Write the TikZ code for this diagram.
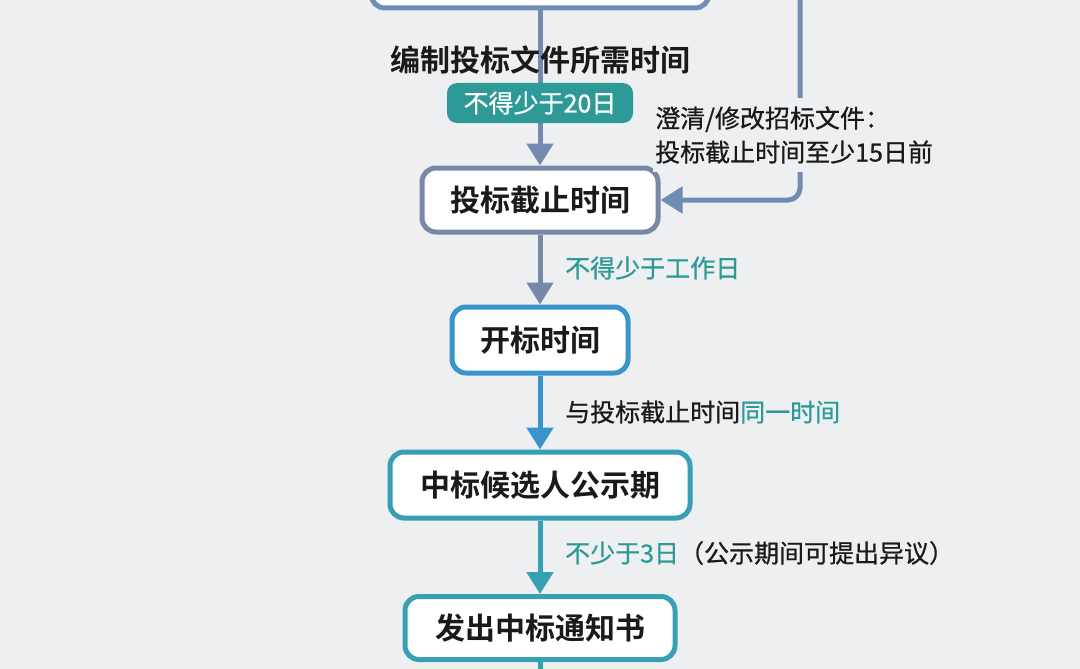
\documentclass[tikz,border=0pt]{standalone}
\usepackage{fontspec}
\setmainfont{Noto Sans CJK SC}[BoldFont={Noto Sans CJK SC Bold}]
\newfontfamily\medfont{Noto Sans CJK SC}[FakeBold=0.7]
\usetikzlibrary{arrows.meta}
\definecolor{bg}{HTML}{EDEFF1}
\definecolor{cgray}{HTML}{7A88A8}
\definecolor{ctop}{HTML}{6F8DB6}
\definecolor{cblue}{HTML}{3A94CC}
\definecolor{cteal}{HTML}{37A0B2}
\definecolor{ctxt}{HTML}{2E9A98}
\definecolor{cbadge}{HTML}{2E9A98}
\definecolor{dark}{HTML}{1A1A1A}
\tikzset{
  box/.style={draw, fill=white, line width=5pt, rounded corners=14pt, inner sep=0pt,
    font=\bfseries\fontsize{30}{36}\selectfont, text=dark},
  conn/.style={line width=5pt, -{Triangle[width=26pt,length=22pt]}},
  plain/.style={line width=5pt},
  lbl/.style={font=\medfont\fontsize{25}{34}\selectfont, text=dark, inner sep=0pt, anchor=west},
}
\begin{document}
\begin{tikzpicture}[x=1pt,y=-1pt]
\useasboundingbox (0,0) rectangle (1080,669);
\fill[bg] (0,0) rectangle (1080,669);
\begin{scope}
\clip (0,0) rectangle (1080,669);
% nodes
\node[box, draw=ctop, minimum width=338pt, minimum height=70pt] (topn) at (540,-27) {};
\node[box, draw=cgray, minimum width=236pt, minimum height=64pt] (deadline) at (540,200) {投标截止时间};
\node[box, draw=cblue, minimum width=176pt, minimum height=66pt] (open) at (540,340) {开标时间};
\node[box, draw=cteal!85!cblue, minimum width=300pt, minimum height=66pt] (pub) at (540,485) {中标候选人公示期};
\node[box, draw=cteal, minimum width=270pt, minimum height=63pt] (notice) at (540,628) {发出中标通知书};
\coordinate (rtop) at (800,-10);
\coordinate (bot) at (540,680);
% connectors
\draw[conn, ctop!60!cgray] (topn.south) -- (deadline.north);
\draw[conn, ctop!70!cgray, rounded corners=12pt] (rtop) |- (deadline.east);
\draw[conn, cgray] (deadline.south) -- (open.north);
\draw[conn, cblue] (open.south) -- (pub.north);
\draw[conn, cteal] (pub.south) -- (notice.north);
\draw[plain, cteal] (notice.south) -- (bot);
% labels
\node[font=\bfseries\fontsize{30}{36}\selectfont, text=dark, inner sep=0pt] (title) at (540,60) {编制投标文件所需时间};
\node[fill=cbadge, rounded corners=10pt, minimum width=186pt, minimum height=40pt, inner sep=0pt,
  font=\medfont\fontsize{25}{30}\selectfont, text=white] (badge) at (540,103) {不得少于20日};
\node[lbl, fill=bg, inner ysep=8pt, inner xsep=2pt, align=left] (clar) at (653,135) {澄清/修改招标文件：\\投标截止时间至少15日前};
\node[lbl, text=ctxt] (l1) at (565,268) {不得少于工作日};
\node[lbl] (l2) at (565,412) {与投标截止时间\textcolor{ctxt}{同一时间}};
\node[lbl] (l3) at (565,553) {\textcolor{ctxt}{不少于3日}（公示期间可提出异议）};
\end{scope}
\end{tikzpicture}
\end{document}
